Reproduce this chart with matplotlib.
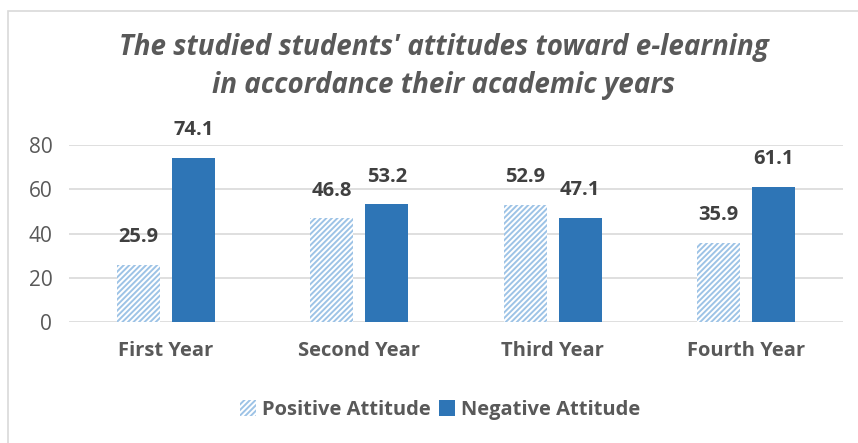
import numpy as np
import matplotlib
matplotlib.use("Agg")
import matplotlib.pyplot as plt
from matplotlib.patches import Rectangle, Patch

# dados do grafico
anos = ["First Year", "Second Year", "Third Year", "Fourth Year"]
positivo = [25.9, 46.8, 52.9, 35.9]
negativo = [74.1, 53.2, 47.1, 61.1]
yticks = [0, 20, 40, 60, 80]

plt.rcParams['font.family'] = ['Open Sans', 'DejaVu Sans']
plt.rcParams['hatch.linewidth'] = 1.4

cinza = "#595959"
azul = "#2E75B6"
azul_claro = "#9DC3E6"

fig = plt.figure(figsize=(8.58, 4.43), dpi=100)
fig.patches.append(Rectangle((8 / 858, -0.1), 1.2, 1 - 11 / 443 + 0.1,
                             transform=fig.transFigure, fill=False,
                             edgecolor="#D9D9D9", linewidth=1.2))

ax = fig.add_axes([69 / 858, 1 - 322 / 443, 774 / 858, 177 / 443])

x = np.arange(len(anos))
w = 0.222
off = 0.142

b1 = ax.bar(x - off, positivo, w, color="white", edgecolor=azul_claro,
            hatch="//////", linewidth=0)
b2 = ax.bar(x + off, negativo, w, color=azul, linewidth=0)

for barras, vals in [(b1, positivo), (b2, negativo)]:
    for b, v in zip(barras, vals):
        ax.text(b.get_x() + b.get_width() / 2, v + 12.5, f"{v:.1f}",
                ha="center", va="center", fontsize=14.5, fontweight="bold",
                color="#404040")

ax.set_xlim(-0.5, 3.5)
ax.set_ylim(0, 80)
ax.set_yticks(yticks)
ax.set_xticks(x)
ax.set_xticklabels(anos, fontsize=14.5, fontweight="bold", color=cinza)
ax.tick_params(axis="y", labelsize=15, labelcolor=cinza, length=0, pad=12)
ax.tick_params(axis="x", length=0, pad=14)
ax.grid(axis="y", color="#D9D9D9", linewidth=1.2)
ax.set_axisbelow(True)
for s in ax.spines.values():
    s.set_visible(False)

# titulo em duas linhas
fig.text(444 / 858, 1 - 47 / 443, "The studied students' attitudes toward e-learning",
         ha="center", va="center", fontsize=20, fontweight="bold",
         style="italic", color=cinza)
fig.text(444 / 858, 1 - 85 / 443, "in accordance their academic years",
         ha="center", va="center", fontsize=20, fontweight="bold",
         style="italic", color=cinza)

handles = [Patch(facecolor="white", edgecolor=azul_claro, hatch="//////", linewidth=0),
           Patch(facecolor=azul, linewidth=0)]
fig.legend(handles, ["Positive Attitude", "Negative Attitude"],
           loc="center", bbox_to_anchor=(440 / 858, 1 - 410 / 443), ncol=2,
           frameon=False, handlelength=0.8, handleheight=0.8,
           handletextpad=0.3, columnspacing=0.4,
           prop={"size": 14.5, "weight": "bold"}, labelcolor=cinza)

plt.savefig("out.png", dpi=100)
